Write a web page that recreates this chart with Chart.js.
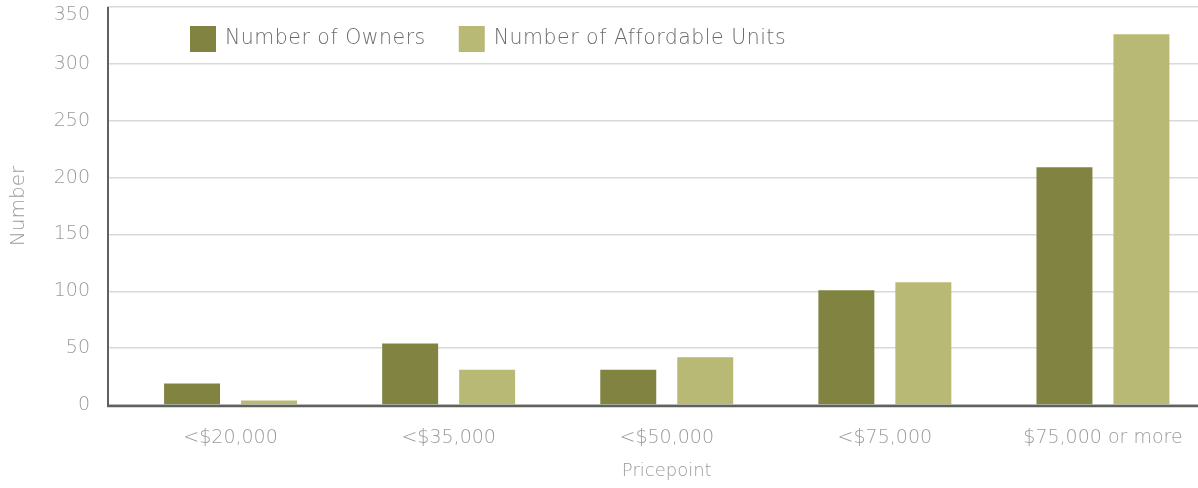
<!DOCTYPE html>
<html>
<head>
<meta charset="utf-8">
<script src="https://cdn.jsdelivr.net/npm/chart.js@4.4.1/dist/chart.umd.min.js"></script>
<style>
  html, body { margin: 0; padding: 0; background: #fff; overflow: hidden; }
  #wrap { width: 1198px; height: 488px; overflow: hidden; }
</style>
</head>
<body>
<div id="wrap"><canvas id="chart" width="1230" height="488"></canvas></div>
<script>
const categories = ['<$20,000', '<$35,000', '<$50,000', '<$75,000', '$75,000 or more'];
const owners = [19, 54, 31, 101, 209];
const affordableUnits = [4, 31, 42, 108, 326];
const yTicks = [0, 50, 100, 150, 200, 250, 300, 350];

const FONT = '"DejaVu Sans", sans-serif';
const GRID = '#d9d9d9';
const AXIS = '#5d625d';
const Y_TICK_LEN = 14.5;

// axis lines sit left of the plot area, gridlines reach them via tick marks
const axisLines = {
  id: 'axisLines',
  beforeDraw(chart) {
    // keep the top tick label inside the canvas
    chart.scales.y.getLabelItems().forEach(it => {
      const t = it.options.translation;
      t[1] = Math.max(t[1], 15);
    });
  },
  afterDatasetsDraw(chart) {
    const { ctx, chartArea } = chart;
    const x0 = chartArea.left - Y_TICK_LEN;
    ctx.save();
    ctx.strokeStyle = AXIS;
    ctx.lineWidth = 2;
    ctx.beginPath();
    ctx.moveTo(x0 + 1, chartArea.top);
    ctx.lineTo(x0 + 1, chartArea.bottom + 2);
    ctx.stroke();
    ctx.lineWidth = 2.5;
    ctx.beginPath();
    ctx.moveTo(x0, chartArea.bottom + 1);
    ctx.lineTo(chart.width, chartArea.bottom + 1);
    ctx.stroke();
    ctx.restore();
  }
};

// legend row drawn inside the plot, near the top left
const insideLegend = {
  id: 'insideLegend',
  afterDraw(chart) {
    const { ctx } = chart;
    const box = 26, gap = 9, spacing = 33;
    let x = 190;
    const y = 26;
    ctx.save();
    ctx.font = `300 20.5px ${FONT}`;
    ctx.letterSpacing = '0.5px';
    ctx.textBaseline = 'middle';
    ctx.textAlign = 'left';
    chart.data.datasets.forEach(ds => {
      ctx.fillStyle = ds.backgroundColor;
      ctx.fillRect(x, y, box, box);
      ctx.fillStyle = '#6b6b6b';
      ctx.fillText(ds.label, x + box + gap, y + box / 2);
      x += box + gap + ctx.measureText(ds.label).width + spacing;
    });
    ctx.restore();
  }
};

new Chart(document.getElementById('chart'), {
  type: 'bar',
  data: {
    labels: categories,
    datasets: [
      { label: 'Number of Owners', data: owners, backgroundColor: '#808440' },
      { label: 'Number of Affordable Units', data: affordableUnits, backgroundColor: '#b8b974' }
    ]
  },
  options: {
    responsive: false,
    animation: false,
    devicePixelRatio: 1,
    layout: { padding: { top: 7, right: 18, left: 0, bottom: 0 } },
    datasets: {
      bar: { categoryPercentage: 0.706, barPercentage: 0.727 }
    },
    plugins: {
      tooltip: { enabled: false },
      legend: { display: false }
    },
    scales: {
      x: {
        afterFit(s) { s.height = 83; },
        grid: { display: false, drawTicks: false },
        border: { display: false },
        ticks: { color: '#9a9a9a', padding: 22, font: { family: FONT, size: 19, weight: 300 } },
        title: {
          display: true, text: 'Pricepoint', color: '#9a9a9a',
          font: { family: FONT, size: 18, weight: 300 },
          padding: { top: 0, bottom: 6 }
        }
      },
      y: {
        min: 0,
        max: 350,
        afterFit(s) {
          s.width = 121.5;
          s.paddingTop = 0;
          s.paddingBottom = 0;
        },
        afterBuildTicks(s) { s.ticks = yTicks.map(v => ({ value: v })); },
        grid: { color: GRID, lineWidth: 1.5, tickLength: Y_TICK_LEN, drawTicks: true },
        border: { display: false },
        ticks: { color: '#9a9a9a', padding: 17, font: { family: FONT, size: 19, weight: 300 } },
        title: {
          display: true, text: 'Number', color: '#9a9a9a',
          font: { family: FONT, size: 20, weight: 300 },
          padding: { top: 7, bottom: 0 }
        }
      }
    }
  },
  plugins: [axisLines, insideLegend]
});
</script>
</body>
</html>
